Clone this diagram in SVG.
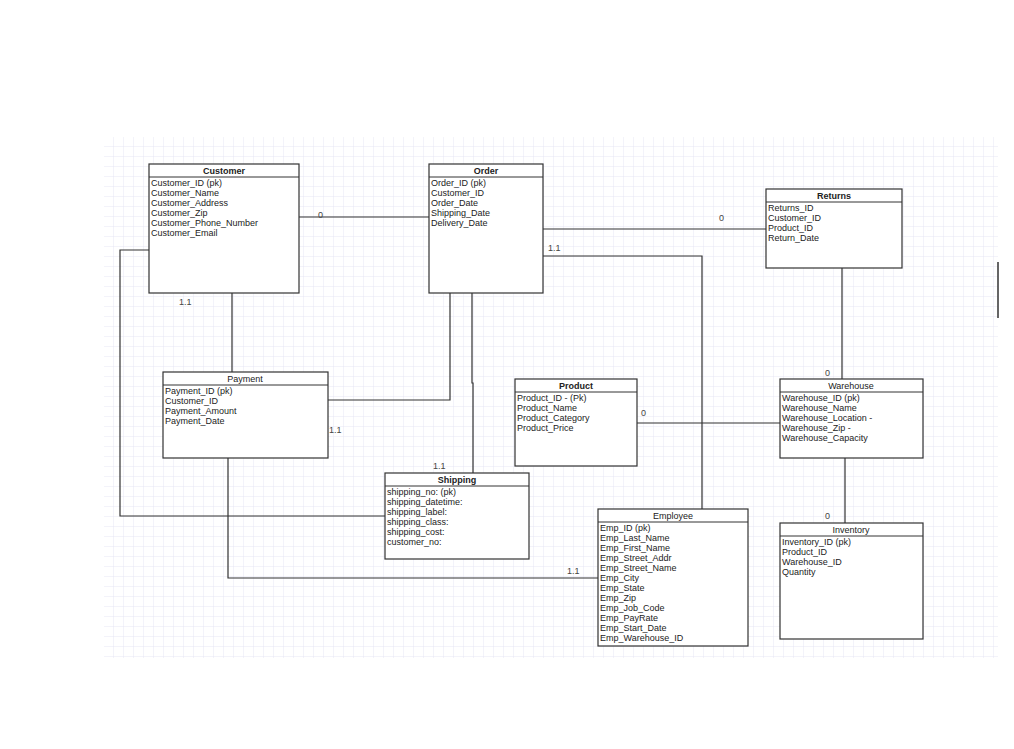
<svg xmlns="http://www.w3.org/2000/svg" width="1014" height="749" viewBox="0 0 1014 749">
<defs>
<pattern id="g" width="10" height="10" patternUnits="userSpaceOnUse" x="104" y="137">
<path d="M10 0V10H0" fill="none" stroke="#e6e6f5" stroke-width="1"/>
</pattern>
<style>
.b{fill:#fff;stroke:#333;stroke-width:1.2}
.h{stroke:#333;stroke-width:1}
text{font-family:"Liberation Sans",Arial,sans-serif;font-size:9px;fill:#222}
.t{text-anchor:middle;font-size:9px}
.tb{font-weight:bold}
.c{fill:none;stroke:#333;stroke-width:1.2}
.l{fill:#444;font-size:9px}
</style>
</defs>
<rect width="1014" height="749" fill="#fff"/>
<rect x="104" y="137" width="894" height="521" fill="url(#g)"/>
<line x1="998" y1="262" x2="998" y2="318" stroke="#333" stroke-width="1.5"/>
<g id="connectors">
<path class="c" d="M299 217H429"/>
<path class="c" d="M543 229H766"/>
<path class="c" d="M543 256H702V509"/>
<path class="c" d="M232 293V372"/>
<path class="c" d="M149 250H120V516H385"/>
<path class="c" d="M450 293V400H328"/>
<path class="c" d="M472 293V383H473V473"/>
<path class="c" d="M228 458V578H598"/>
<path class="c" d="M637 423H780"/>
<path class="c" d="M842 268V379"/>
<path class="c" d="M845 458V523"/>
<text class="l" x="318" y="218">0</text>
<text class="l" x="719" y="221">0</text>
<text class="l" x="548" y="251">1.1</text>
<text class="l" x="179" y="305">1.1</text>
<text class="l" x="329" y="433">1.1</text>
<text class="l" x="433" y="469">1.1</text>
<text class="l" x="567" y="574">1.1</text>
<text class="l" x="641" y="416">0</text>
<text class="l" x="825" y="376">0</text>
<text class="l" x="825" y="519">0</text>
</g>
<g id="customer">
<rect class="b" x="149" y="164" width="150" height="129"/><line class="h" x1="149" y1="177" x2="299" y2="177"/>
<text class="t tb" x="224" y="174">Customer</text>
<text x="151" y="186">Customer_ID (pk)</text><text x="151" y="196">Customer_Name</text><text x="151" y="206">Customer_Address</text><text x="151" y="216">Customer_Zip</text><text x="151" y="226">Customer_Phone_Number</text><text x="151" y="236">Customer_Email</text>
</g>
<g id="order">
<rect class="b" x="429" y="164" width="114" height="129"/><line class="h" x1="429" y1="177" x2="543" y2="177"/>
<text class="t tb" x="486" y="174">Order</text>
<text x="431" y="186">Order_ID (pk)</text><text x="431" y="196">Customer_ID</text><text x="431" y="206">Order_Date</text><text x="431" y="216">Shipping_Date</text><text x="431" y="226">Delivery_Date</text>
</g>
<g id="returns">
<rect class="b" x="766" y="189" width="136" height="79"/><line class="h" x1="766" y1="202" x2="902" y2="202"/>
<text class="t tb" x="834" y="199">Returns</text>
<text x="768" y="211">Returns_ID</text><text x="768" y="221">Customer_ID</text><text x="768" y="231">Product_ID</text><text x="768" y="241">Return_Date</text>
</g>
<g id="payment">
<rect class="b" x="163" y="372" width="165" height="86"/><line class="h" x1="163" y1="385" x2="328" y2="385"/>
<text class="t" x="245" y="382">Payment</text>
<text x="165" y="394">Payment_ID (pk)</text><text x="165" y="404">Customer_ID</text><text x="165" y="414">Payment_Amount</text><text x="165" y="424">Payment_Date</text>
</g>
<g id="product">
<rect class="b" x="515" y="379" width="122" height="87"/><line class="h" x1="515" y1="392" x2="637" y2="392"/>
<text class="t tb" x="576" y="389">Product</text>
<text x="517" y="401">Product_ID - (Pk)</text><text x="517" y="411">Product_Name</text><text x="517" y="421">Product_Category</text><text x="517" y="431">Product_Price</text>
</g>
<g id="warehouse">
<rect class="b" x="780" y="379" width="143" height="79"/><line class="h" x1="780" y1="392" x2="923" y2="392"/>
<text class="t" x="851" y="389">Warehouse</text>
<text x="782" y="401">Warehouse_ID (pk)</text><text x="782" y="411">Warehouse_Name</text><text x="782" y="421">Warehouse_Location -</text><text x="782" y="431">Warehouse_Zip -</text><text x="782" y="441">Warehouse_Capacity</text>
</g>
<g id="shipping">
<rect class="b" x="385" y="473" width="144" height="86"/><line class="h" x1="385" y1="486" x2="529" y2="486"/>
<text class="t tb" x="457" y="483">Shipping</text>
<text x="387" y="495">shipping_no:  (pk)</text><text x="387" y="505">shipping_datetime:</text><text x="387" y="515">shipping_label:</text><text x="387" y="525">shipping_class:</text><text x="387" y="535">shipping_cost:</text><text x="387" y="545">customer_no:</text>
</g>
<g id="employee">
<rect class="b" x="598" y="509" width="150" height="137"/><line class="h" x1="598" y1="522" x2="748" y2="522"/>
<text class="t" x="673" y="519">Employee</text>
<text x="600" y="531">Emp_ID (pk)</text><text x="600" y="541">Emp_Last_Name</text><text x="600" y="551">Emp_First_Name</text><text x="600" y="561">Emp_Street_Addr</text><text x="600" y="571">Emp_Street_Name</text><text x="600" y="581">Emp_City</text><text x="600" y="591">Emp_State</text><text x="600" y="601">Emp_Zip</text><text x="600" y="611">Emp_Job_Code</text><text x="600" y="621">Emp_PayRate</text><text x="600" y="631">Emp_Start_Date</text><text x="600" y="641">Emp_Warehouse_ID</text>
</g>
<g id="inventory">
<rect class="b" x="780" y="523" width="143" height="116"/><line class="h" x1="780" y1="536" x2="923" y2="536"/>
<text class="t" x="851" y="533">Inventory</text>
<text x="782" y="545">Inventory_ID (pk)</text><text x="782" y="555">Product_ID</text><text x="782" y="565">Warehouse_ID</text><text x="782" y="575">Quantity</text>
</g>
</svg>
